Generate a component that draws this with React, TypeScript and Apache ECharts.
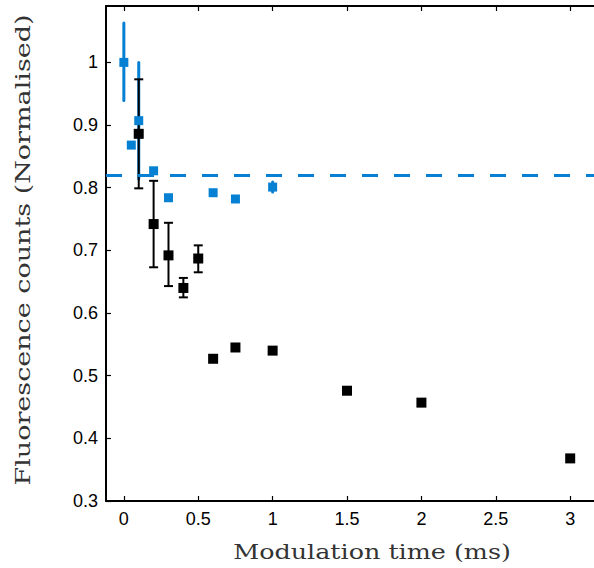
import React, { useEffect, useRef } from "react";
import * as echarts from "echarts";

// Black series (with error bars on the first points)
const blackX = [0.1, 0.2, 0.3, 0.4, 0.5, 0.6, 0.75, 1, 1.5, 2, 3];
const blackY = [0.886, 0.742, 0.692, 0.64, 0.687, 0.527, 0.545, 0.54, 0.476, 0.457, 0.368];
const blackErrX = [0.1, 0.2, 0.3, 0.4, 0.5];
const blackErrLow = [0.799, 0.673, 0.643, 0.625, 0.665];
const blackErrHigh = [0.973, 0.811, 0.744, 0.656, 0.708];

// Blue series
const blueX = [0, 0.05, 0.1, 0.2, 0.3, 0.6, 0.75, 1];
const blueY = [1.0, 0.868, 0.907, 0.827, 0.784, 0.792, 0.782, 0.801];
const blueErrX = [0, 0.1, 1];
const blueErrLow = [0.939, 0.814, 0.793];
const blueErrHigh = [1.063, 1.0, 0.809];

const referenceLevel = 0.823;

const xTicks = [0, 0.5, 1, 1.5, 2, 2.5, 3];
const yTicks = [0.3, 0.4, 0.5, 0.6, 0.7, 0.8, 0.9, 1];

const xTitle = "Modulation time (ms)";
const yTitle = "Fluorescence counts (Normalised)";

const BLUE = "#0680d3";
const BLACK = "#000000";

function isTick(v: number, list: number[]) {
  return list.some((t) => Math.abs(t - v) < 1e-6);
}

function errRender(color: string, cap: number, width: number) {
  return (params: any, api: any) => {
    const x = api.value(0);
    const lo = api.coord([x, api.value(1)]);
    const hi = api.coord([x, api.value(2)]);
    const children: any[] = [
      {
        type: "line",
        shape: { x1: lo[0], y1: lo[1], x2: hi[0], y2: hi[1] },
        style: { stroke: color, lineWidth: width, lineCap: cap ? "butt" : "round" },
      },
    ];
    if (cap) {
      children.push(
        {
          type: "line",
          shape: { x1: lo[0] - cap, y1: lo[1], x2: lo[0] + cap, y2: lo[1] },
          style: { stroke: color, lineWidth: width },
        },
        {
          type: "line",
          shape: { x1: hi[0] - cap, y1: hi[1], x2: hi[0] + cap, y2: hi[1] },
          style: { stroke: color, lineWidth: width },
        }
      );
    }
    return { type: "group", children };
  };
}

export default function App() {
  const ref = useRef<HTMLDivElement>(null);
  useEffect(() => {
    if (!ref.current) return;
    const chart = echarts.init(ref.current, undefined, { renderer: "svg" });
    const tickLabel = { fontFamily: "Liberation Sans", fontSize: 18, color: "#000" };
    const axisLine = { show: true, onZero: false, lineStyle: { color: "#000", width: 2 } };
    const axisTick = { show: true, inside: true, length: 5, lineStyle: { color: "#000", width: 1.2 } };
    const titleFont = { fontFamily: "DejaVu Serif", fontSize: 20, fill: "#333333" };
    chart.setOption({
      animation: false,
      backgroundColor: "#fff",
      grid: { left: 106, right: 0, top: 6, bottom: 67, containLabel: false },
      xAxis: [
        {
          type: "value",
          min: -0.12,
          max: 3.16,
          position: "bottom",
          axisLine,
          axisTick: { ...axisTick, customValues: xTicks },
          splitLine: { show: false },
          axisLabel: {
            ...tickLabel,
            margin: 9,
            customValues: xTicks,
            formatter: (v: number) => (isTick(v, xTicks) ? String(+v.toFixed(2)) : ""),
          },
        },
        {
          type: "value",
          min: -0.12,
          max: 3.16,
          position: "top",
          axisLine,
          axisTick: { ...axisTick, customValues: xTicks },
          axisLabel: { show: false },
          splitLine: { show: false },
        },
      ],
      yAxis: [
        {
          type: "value",
          min: 0.3,
          max: 1.09,
          interval: 0.1,
          axisLine,
          axisTick: { ...axisTick, customValues: yTicks },
          splitLine: { show: false },
          axisLabel: {
            ...tickLabel,
            margin: 8,
            customValues: yTicks,
            formatter: (v: number) => (isTick(v, yTicks) ? String(+v.toFixed(2)) : ""),
          },
        },
      ],
      graphic: [
        {
          type: "text",
          x: 372,
          y: 552,
          scaleX: 1.27,
          style: { ...titleFont, text: xTitle, align: "center", verticalAlign: "middle" },
        },
        {
          type: "text",
          x: 23,
          y: 250,
          rotation: Math.PI / 2,
          scaleX: 1.35,
          style: { ...titleFont, text: yTitle, align: "center", verticalAlign: "middle" },
        },
      ],
      series: [
        {
          type: "custom",
          renderItem: errRender(BLUE, 0, 3),
          data: blueErrX.map((x, i) => [x, blueErrLow[i], blueErrHigh[i]]),
          z: 1,
          silent: true,
        },
        {
          type: "custom",
          renderItem: errRender(BLACK, 4.5, 2),
          data: blackErrX.map((x, i) => [x, blackErrLow[i], blackErrHigh[i]]),
          z: 2,
          silent: true,
        },
        {
          type: "scatter",
          symbol: "rect",
          symbolSize: 9,
          itemStyle: { color: BLUE, opacity: 1 },
          data: blueX.map((x, i) => [x, blueY[i]]),
          z: 3,
          markLine: {
            silent: true,
            symbol: "none",
            label: { show: false },
            lineStyle: { color: BLUE, width: 3, type: [16, 16] },
            data: [{ yAxis: referenceLevel }],
          },
        },
        {
          type: "scatter",
          symbol: "rect",
          symbolSize: 10,
          itemStyle: { color: BLACK, opacity: 1 },
          data: blackX.map((x, i) => [x, blackY[i]]),
          z: 4,
        },
      ],
    });
    return () => chart.dispose();
  }, []);
  return <div ref={ref} style={{ width: 594, height: 568, position: "absolute", left: 0, top: 0 }} />;
}
